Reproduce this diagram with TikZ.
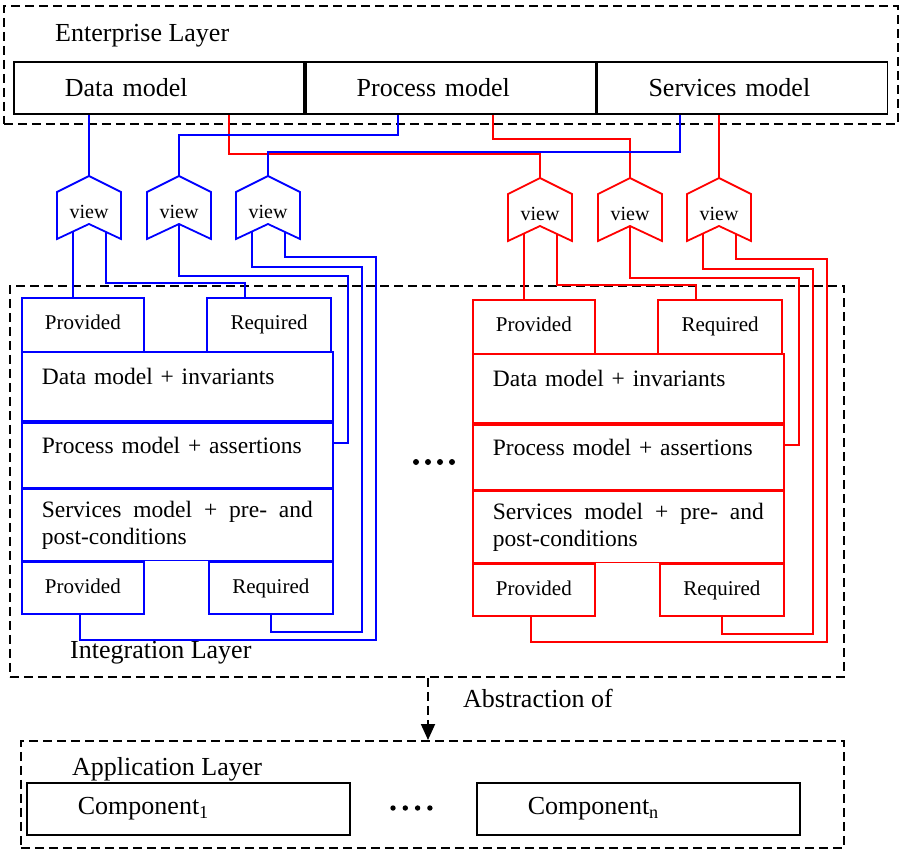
\documentclass[tikz,border=0pt]{standalone}
\usepackage{fontspec}
\setmainfont{Liberation Serif}
\usetikzlibrary{positioning, calc, arrows.meta}

\tikzset{
  layer/.style={draw, line width=1.8pt, dash pattern=on 9pt off 5pt, anchor=north west, inner sep=0pt},
  layername/.style={anchor=base west, inner sep=0pt, font=\fontsize{26}{31}\selectfont},
  modelbox/.style={draw, line width=1.8pt, minimum height=52pt, inner xsep=51pt, inner ysep=0pt, text width=188pt, align=left, font=\fontsize{26}{31}\selectfont},
  port/.style={draw, line width=1.8pt, minimum height=53pt, inner sep=0pt, text height=15pt, text depth=5pt, font=\fontsize{21}{25}\selectfont},
  part/.style={draw, line width=1.8pt, text width=271pt, inner xsep=20pt, inner ysep=0pt, align=left, font=\fontsize{23.5}{27}\selectfont},
  viewname/.style={inner sep=0pt, font=\fontsize{20}{24}\selectfont},
  wire/.style={line width=1.8pt},
}

\begin{document}
\begin{tikzpicture}[x=1pt, y=-1pt]
    \useasboundingbox (0,0) rectangle (900,849);

    % the three layers
    \node[layer, minimum width=894pt, minimum height=118pt] (ent) at (3,5) {};
    \node[layer, minimum width=834pt, minimum height=391pt] (intl) at (9,285) {};
    \node[layer, minimum width=823pt, minimum height=107pt] (appl) at (20,740) {};
    \node[layername] (entname) at (55,41) {Enterprise Layer};
    \node[layername] (intname) at (70,658) {Integration Layer};
    \node[layername] (appname) at (72,775) {Application Layer};

    \node[modelbox, anchor=north west] (dm) at (13,61) {Data model};
    \node[modelbox, right=0pt of dm] (pm) {Process model};
    \node[modelbox, right=0pt of pm] (sm) {Services model};

    \node[modelbox, text width=221pt, anchor=north west] (comp1) at (26,782) {Component\textsubscript{1}};
    \node[modelbox, text width=221pt, anchor=north west] (compn) at (476,782) {Component\textsubscript{n}};

    \foreach \i in {0,...,3} {
        \fill (416+12*\i,462) circle (3pt);
        \fill (393+12.3*\i,808) circle (2.7pt);
    }

    \draw[line width=1.8pt, dash pattern=on 9pt off 5pt, -{Triangle[length=16pt, width=14pt]}]
        ($(intl.south west)+(419,0)$) -- ($(appl.north west)+(408,0)$);
    \node[layername] (absname) at (463,707) {Abstraction of};

    % one block per colour, with its views
    \foreach \bk/\bx/\by/\col in {b/21/297/blue, r/472/299/red} {
        \node[port, draw=\col, minimum width=122pt, minimum height=54pt, anchor=north west] (\bk-tp) at (\bx,\by) {Provided};
        \node[port, draw=\col, minimum width=124pt, minimum height=54pt, anchor=north east] (\bk-tr) at (\bx+311,\by) {Required};
        \node[part, draw=\col, minimum height=69pt, text height=17pt, text depth=21pt, anchor=north west] (\bk-dm) at (\bx,\by+54) {Data model + invariants};
        \node[part, draw=\col, minimum height=65pt, text height=17pt, text depth=21pt, anchor=north] (\bk-pm) at (\bk-dm.south) {Process model + assertions};
        \node[part, draw=\col, minimum height=71pt, align=justify, anchor=north] (\bk-sm) at (\bk-pm.south) {Services model + pre- and\linebreak post-conditions};
        \node[port, draw=\col, minimum width=122pt, minimum height=52pt, anchor=north west] (\bk-bp) at (\bk-sm.south west) {Provided};
        \node[port, draw=\col, minimum width=124pt, minimum height=52pt, anchor=north east] (\bk-br) at (\bk-sm.south east) {Required};

        \foreach \vi/\dx in {1/68, 2/158, 3/247} {
            \node[viewname] (\bk\vi) at (\bx+\dx,\by-85) {view};
            \draw[wire, \col] ($(\bk\vi)+(0,-36)$) -- ++(32,16) -- ++(0,47) -- ++(-32,-15) -- ++(-32,15) -- ++(0,-47) -- cycle;
            \coordinate (\bk\vi-top) at ($(\bk\vi)+(0,-36)$);
            \coordinate (\bk\vi-l) at ($(\bk\vi)+(-16,19.5)$);
            \coordinate (\bk\vi-m) at ($(\bk\vi)+(0,12)$);
            \coordinate (\bk\vi-r) at ($(\bk\vi)+(17,20)$);
        }

        \draw[wire, \col] (\bk1-l) -- (\bk1-l |- \bk-tp.north);
        \draw[wire, \col] (\bk1-r) |- ($(\bk-tr.north west)+(39,-14)$) -- ($(\bk-tr.north west)+(39,0)$);
        \draw[wire, \col] (\bk2-m) |- (\bx+327,\by-21) |- ($(\bk-pm.north east)+(0,21)$);
        \draw[wire, \col] (\bk3-l) |- (\bx+341,\by-30) |- ($(\bk-br.south)+(0,17)$) -- (\bk-br.south);
        \draw[wire, \col] (\bk3-r) |- (\bx+355,\by-40) |- ($(\bk-bp.south)+(-3,25)$) -- ($(\bk-bp.south)+(-3,0)$);
    }

    % enterprise models to views
    \draw[wire, red] (r1-top) |- ($(dm.south west)+(216,39.5)$) -- ($(dm.south west)+(216,0)$);
    \draw[wire, red] (r2-top) |- ($(pm.south west)+(188,24)$) -- ($(pm.south west)+(188,0)$);
    \draw[wire, red] (r3-top) -- (r3-top |- sm.south);
    \draw[wire, blue] (b1-top) -- (b1-top |- dm.south);
    \draw[wire, blue] (b2-top) |- ($(pm.south west)+(93,20)$) -- ($(pm.south west)+(93,0)$);
    \draw[wire, blue] (b3-top) |- ($(sm.south west)+(83,37)$) -- ($(sm.south west)+(83,0)$);
\end{tikzpicture}
\end{document}
